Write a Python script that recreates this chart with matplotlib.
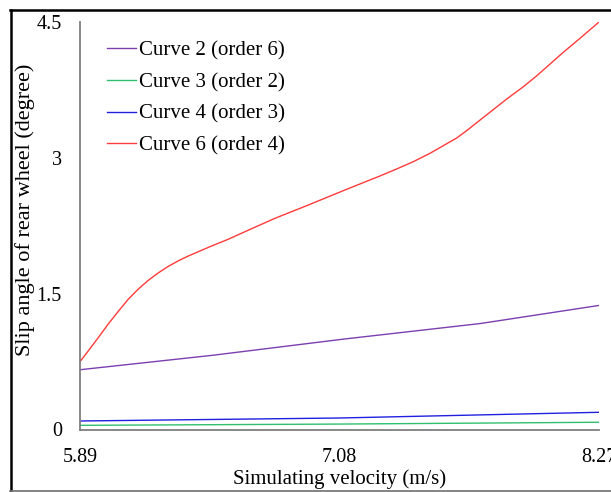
import numpy as np
import matplotlib
matplotlib.use("Agg")
import matplotlib.pyplot as plt
from matplotlib.lines import Line2D

#values
v_red = [5.890, 5.927, 5.973, 6.018, 6.064, 6.110, 6.156, 6.202, 6.248, 6.294,
         6.340, 6.386, 6.431, 6.492, 6.569, 6.670, 6.784, 6.937, 7.105, 7.189,
         7.266, 7.342, 7.418, 7.495, 7.618, 7.663, 7.725, 7.847, 7.923, 7.984,
         8.045, 8.106, 8.183, 8.27]
slip_red = [0.749, 0.865, 1.012, 1.160, 1.300, 1.435, 1.548, 1.645, 1.728, 1.800,
            1.862, 1.915, 1.962, 2.025, 2.100, 2.210, 2.332, 2.479, 2.645, 2.726,
            2.800, 2.877, 2.957, 3.050, 3.220, 3.300, 3.418, 3.650, 3.785, 3.905,
            4.035, 4.165, 4.320, 4.5]

v_purple = [5.89, 6.50, 7.105, 7.725, 8.27]
slip_purple = [0.66, 0.82, 1.0, 1.17, 1.37]

v_blue = [5.89, 7.08, 8.27]
slip_blue = [0.094, 0.127, 0.19]

v_green = [5.89, 7.08, 8.27]
slip_green = [0.046, 0.06, 0.08]

x_ticks = [5.89, 7.08, 8.27]
x_labels = ["5.89", "7.08", "8.27"]
y_ticks = [0, 1.5, 3, 4.5]
y_labels = ["0", "1.5", "3", "4.5"]

plt.rcParams["font.family"] = ["Liberation Serif", "DejaVu Serif"]

fig = plt.figure(figsize=(6.11, 4.92), dpi=100)
W, H = 611., 492.
ax = fig.add_axes([80/W, 1-429.5/H, 519/W, 407.5/H])

l2, = ax.plot(v_purple, slip_purple, color="#7b3fb0", lw=1.0)
l3, = ax.plot(v_green, slip_green, color="#2fbf6e", lw=1.0)
l4, = ax.plot(v_blue, slip_blue, color="#2020e0", lw=1.0)
l6, = ax.plot(v_red, slip_red, color="#ff3b3b", lw=1.0)

ax.set_xlim(5.89, 8.27)
ax.set_ylim(0, 4.5)
ax.set_xticks(x_ticks)
ax.set_xticklabels(x_labels)
ax.set_yticks(y_ticks)
ax.set_yticklabels(y_labels)
ax.tick_params(length=0, labelsize=14.5)
ax.tick_params(axis="y", pad=13)
ax.tick_params(axis="x", pad=13)
for s in ["top", "right"]:
    ax.spines[s].set_visible(False)
for s in ["left", "bottom"]:
    ax.spines[s].set_color("#7f7f7f")
    ax.spines[s].set_linewidth(1.3)

ax.set_xlabel("Simulating velocity (m/s)", fontsize=15, labelpad=2)
ax.set_ylabel("Slip angle of rear wheel (degree)", fontsize=16)
#the y label sits a bit above the middle in the reference
ax.yaxis.set_label_coords((35-80)/519., (429.5-210)/407.5)

ax.legend([l2, l3, l4, l6],
          ["Curve 2 (order 6)", "Curve 3 (order 2)", "Curve 4 (order 3)", "Curve 6 (order 4)"],
          loc="upper left", bbox_to_anchor=(107/W, 1-41/H), bbox_transform=fig.transFigure,
          frameon=False, fontsize=15, handlelength=1.4, handletextpad=0.15,
          labelspacing=0.58, borderpad=0, borderaxespad=0)

#frame around the picture (right side is cut off in the reference)
fig.add_artist(Line2D([10.5/W, 10.5/W], [1-10/H, 1-491/H], color="black", lw=1.8))
fig.add_artist(Line2D([10/W, 1.0], [1-10/H, 1-10/H], color="black", lw=1.8))
fig.add_artist(Line2D([10/W, 1.0], [1-490.5/H, 1-490.5/H], color="#707070", lw=1.2))

fig.savefig("out.png", dpi=100)
